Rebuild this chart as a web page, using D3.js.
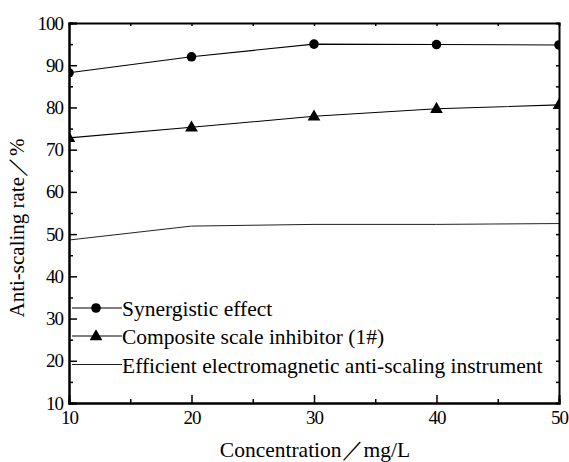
<!DOCTYPE html>
<html>
<head>
<meta charset="utf-8">
<script src="https://cdn.jsdelivr.net/npm/d3@7"></script>
<style>
  body { margin: 0; background: #fff; }
  svg text { font-family: "Liberation Serif", "DejaVu Serif", serif !important; fill: #000; }
</style>
</head>
<body>
<svg id="chart"></svg>
<script>
const concentrations = [10, 20, 30, 40, 50];
const synergistic = [88.2, 92.0, 95.0, 94.9, 94.8];
const composite = [72.8, 75.3, 77.9, 79.7, 80.6];
const electromagnetic = [48.6, 51.9, 52.3, 52.3, 52.5];
const xTicks = [10, 20, 30, 40, 50];
const yTicks = [10, 20, 30, 40, 50, 60, 70, 80, 90, 100];
const seriesNames = ["Synergistic effect", "Composite scale inhibitor (1#)", "Efficient electromagnetic anti-scaling instrument"];

const width = 569, height = 462;
const margin = { left: 69, top: 23, right: 10, bottom: 59 };

const svg = d3.select("#chart").attr("width", width).attr("height", height);

const x = d3.scaleLinear().domain([10, 50]).range([margin.left, width - margin.right]);
const y = d3.scaleLinear().domain([10, 100]).range([height - margin.bottom, margin.top]);

const series = [
  { name: seriesNames[0], values: synergistic, marker: "circle", stroke: "#000", sw: 1.1 },
  { name: seriesNames[1], values: composite, marker: "triangle", stroke: "#000", sw: 1.1 },
  { name: seriesNames[2], values: electromagnetic, marker: "none", stroke: "#222", sw: 1 }
];

// lines
const line = d3.line().x(function (d) { return x(d[0]); }).y(function (d) { return y(d[1]); });
series.forEach(function (s) {
  const pts = concentrations.map(function (c, i) { return [c, s.values[i]]; });
  svg.append("path").attr("d", line(pts)).attr("fill", "none")
    .attr("stroke", s.stroke).attr("stroke-width", s.sw);
});

function drawMarker(g, type, cx, cy) {
  if (type === "circle") {
    g.append("circle").attr("cx", cx).attr("cy", cy).attr("r", 4.8).attr("fill", "#000");
  } else if (type === "triangle") {
    g.append("path").attr("d", d3.symbol().type(d3.symbolTriangle).size(70)())
      .attr("transform", "translate(" + cx + "," + (cy + 0.5) + ")").attr("fill", "#000");
  }
}

// markers (clipped to plot area)
svg.append("clipPath").attr("id", "clip").append("rect")
  .attr("x", margin.left).attr("y", margin.top)
  .attr("width", width - margin.left - margin.right).attr("height", height - margin.top - margin.bottom);
const mg = svg.append("g").attr("clip-path", "url(#clip)");
series.forEach(function (s) {
  concentrations.forEach(function (c, i) { drawMarker(mg, s.marker, x(c), y(s.values[i])); });
});

// axes
const axBottom = svg.append("g").attr("transform", "translate(0," + y(10) + ")")
  .call(d3.axisBottom(x).tickValues(xTicks).tickSize(-8).tickPadding(8).tickFormat(d3.format("d")));
const axBottomMinor = svg.append("g").attr("transform", "translate(0," + y(10) + ")")
  .call(d3.axisBottom(x).tickValues(d3.range(15, 50, 10)).tickSize(-4).tickFormat(""));
const axTop = svg.append("g").attr("transform", "translate(0," + y(100) + ")")
  .call(d3.axisTop(x).tickValues(d3.range(15, 50, 5)).tickSize(-3).tickFormat(""));
const axLeft = svg.append("g").attr("transform", "translate(" + x(10) + ",0)")
  .call(d3.axisLeft(y).tickValues(yTicks).tickSize(-8).tickPadding(6).tickFormat(d3.format("d")));
const axLeftMinor = svg.append("g").attr("transform", "translate(" + x(10) + ",0)")
  .call(d3.axisLeft(y).tickValues(d3.range(15, 100, 10)).tickSize(-4).tickFormat(""));
const axRight = svg.append("g").attr("transform", "translate(" + x(50) + ",0)")
  .call(d3.axisRight(y).tickValues(d3.range(15, 100, 5)).tickSize(-3).tickFormat(""));

[axBottom, axBottomMinor, axTop, axLeft, axLeftMinor, axRight].forEach(function (a) {
  a.select(".domain").attr("stroke", "#000").attr("stroke-width", 2);
  a.selectAll(".tick line").attr("stroke", "#000").attr("stroke-width", 1.5);
  a.selectAll("text").attr("font-size", 19).attr("fill", "#000").style("letter-spacing", "-1px");
});
axBottom.selectAll(".tick").filter(function (d) { return d === 10 || d === 50; }).select("line").remove();

// axis titles
svg.append("text").attr("x", 315).attr("y", 457).attr("text-anchor", "middle").attr("font-size", 21.5)
  .text("Concentration／mg/L");
svg.append("text").attr("transform", "translate(24,228) rotate(-90)")
  .attr("text-anchor", "middle").attr("font-size", 21).text("Anti-scaling rate／%");

// legend
const legend = svg.append("g");
const legendY = [308, 336, 364.5];
series.forEach(function (s, i) {
  legend.append("line").attr("x1", 72).attr("x2", 122).attr("y1", legendY[i]).attr("y2", legendY[i])
    .attr("stroke", s.stroke).attr("stroke-width", s.sw);
  drawMarker(legend, s.marker, 96, legendY[i]);
  legend.append("text").attr("x", 122).attr("y", legendY[i] + 8).attr("font-size", 21.5).text(s.name);
});
</script>
</body>
</html>
